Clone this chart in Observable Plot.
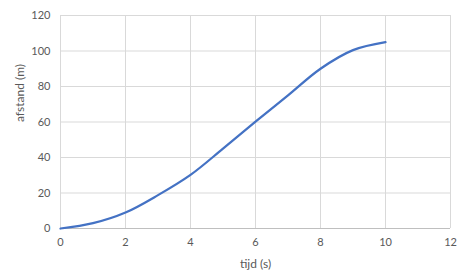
<!DOCTYPE html>
<html>
<head>
<meta charset="utf-8">
<script src="https://cdn.jsdelivr.net/npm/d3@7"></script>
<script src="https://cdn.jsdelivr.net/npm/@observablehq/plot@0.6"></script>
<style>
  html, body { margin: 0; padding: 0; background: #fff; }
</style>
</head>
<body>
<div id="chart"></div>
<script>
const tijd = [0, 1, 2, 3, 4, 5, 6, 7, 8, 9, 10];
const afstand = [0, 3, 9, 18.8, 30.2, 45, 60.2, 75, 90, 100.5, 105];
const xTicks = [0, 2, 4, 6, 8, 10, 12];
const yTicks = [0, 20, 40, 60, 80, 100, 120];
const xLabel = "tijd (s)";
const yLabel = "afstand (m)";

const data = tijd.map((t, i) => ({t, d: afstand[i]}));
const font = "Lato, 'Open Sans', sans-serif";
const textColor = "#595959";

const chart = Plot.plot({
  width: 476,
  height: 280,
  marginLeft: 60,
  marginRight: 26,
  marginTop: 15,
  marginBottom: 52,
  style: {fontFamily: font, fontSize: "11px", color: textColor, background: "#fff"},
  x: {domain: [0, 12], ticks: xTicks},
  y: {domain: [0, 120], ticks: yTicks},
  marks: [
    Plot.gridX(xTicks, {stroke: "#d9d9d9", strokeOpacity: 1, strokeWidth: 1}),
    Plot.gridY(yTicks, {stroke: "#d9d9d9", strokeOpacity: 1, strokeWidth: 1}),
    Plot.ruleY([0], {stroke: "#bfbfbf", strokeWidth: 1}),
    Plot.axisX(xTicks, {tickSize: 0, tickPadding: 10, label: null, fill: textColor, fontSize: 11}),
    Plot.axisY(yTicks, {tickSize: 0, tickPadding: 10, label: null, fill: textColor, fontSize: 11}),
    Plot.line(data, {x: "t", y: "d", curve: "catmull-rom", stroke: "#4472c4", strokeWidth: 2.25}),
    Plot.text([xLabel], {frameAnchor: "bottom", dy: 36, text: d => d, fill: textColor, fontSize: 12, lineAnchor: "middle"}),
    Plot.text([yLabel], {frameAnchor: "left", dx: -40, rotate: -90, text: d => d, fill: textColor, fontSize: 12, lineAnchor: "middle"})
  ]
});
document.getElementById("chart").appendChild(chart);
</script>
</body>
</html>
